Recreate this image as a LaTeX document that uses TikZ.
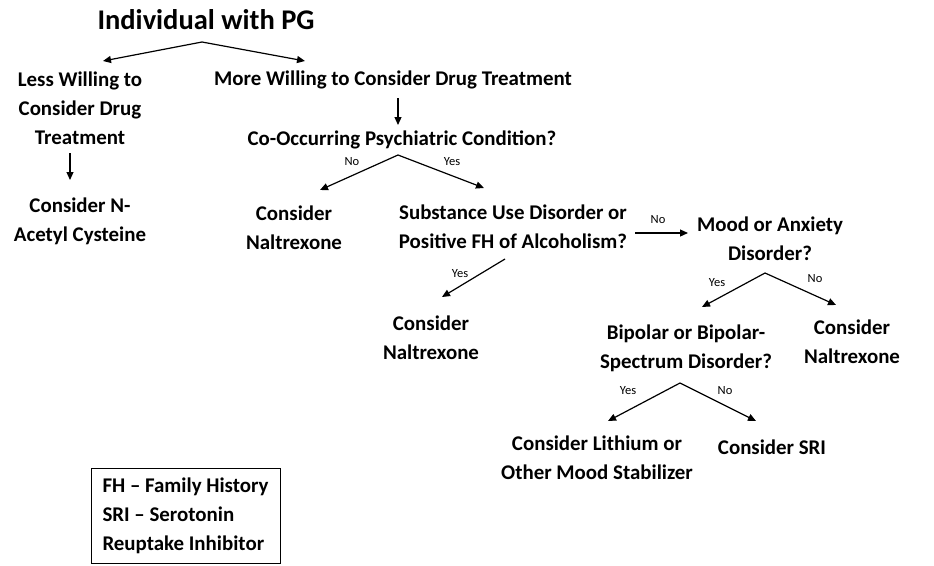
\documentclass[tikz,border=0pt]{standalone}
\usepackage{fontspec}
\setmainfont{Carlito}
\usetikzlibrary{arrows.meta}

\tikzstyle{heading}=[font=\bfseries\fontsize{28.5}{32}\selectfont, inner sep=0pt]
\tikzstyle{choice}=[font=\bfseries\fontsize{20.9}{29}\selectfont, align=center, inner sep=0pt]
\tikzstyle{answer}=[font=\fontsize{12.5}{14}\selectfont, inner sep=0pt]
\tikzstyle{branch}=[-{Triangle[length=8pt,width=7pt]}, line width=1.2pt]

\begin{document}
\begin{tikzpicture}[x=1pt,y=-1pt]
\useasboundingbox (0,0) rectangle (934,565);

\node[heading](pg) at (206,20) {Individual with PG};

\node[choice](less) at (80,108.5) {Less Willing to\\Consider Drug\\Treatment};
\node[choice](nac) at (80,221.5) {Consider N-\\Acetyl Cysteine};
\node[choice](more) at (393,80) {More Willing to Consider Drug Treatment};
\node[choice](cooc) at (402,140) {Co-Occurring Psychiatric Condition?};
\node[choice](naltA) at (294,228) {Consider\\Naltrexone};
\node[choice](sud) at (513,227) {Substance Use Disorder or\\Positive FH of Alcoholism?};
\node[choice](naltB) at (431,337.5) {Consider\\Naltrexone};
\node[choice](mood) at (770,239) {Mood or Anxiety\\Disorder?};
\node[choice](bipolar) at (686,348.5) {Bipolar or Bipolar-\\Spectrum Disorder?};
\node[choice](naltC) at (852,342) {Consider\\Naltrexone};
\node[choice](lithium) at (597,457.5) {Consider Lithium or\\Other Mood Stabilizer};
\node[choice](sri) at (772,447) {Consider SRI};

\node[draw, line width=1pt, choice, align=left, minimum width=189pt,
      minimum height=95pt](legend) at (185.5,515.5) {FH -- Family History\\SRI -- Serotonin\\Reuptake Inhibitor};

% forks and tips
\coordinate (pg-fork) at (202,42);
\coordinate (less-tip) at (103,61);
\coordinate (more-tip) at (305,61);
\coordinate (less-foot) at (70,153);
\coordinate (nac-tip) at (70,180);
\coordinate (more-foot) at (398,98);
\coordinate (cooc-tip) at (398,125);
\coordinate (cooc-fork) at (398,155);
\coordinate (naltA-tip) at (320,190);
\coordinate (sud-tip) at (484,188);
\coordinate (sud-east) at (635,233);
\coordinate (mood-tip) at (688,233);
\coordinate (sud-foot) at (505,259);
\coordinate (naltB-tip) at (442,297);
\coordinate (mood-fork) at (765,273);
\coordinate (bipolar-tip) at (702,307);
\coordinate (naltC-tip) at (836,305);
\coordinate (bipolar-fork) at (680,383);
\coordinate (lithium-tip) at (608,421);
\coordinate (sri-tip) at (756,421);

\draw[branch] (pg-fork) -- (less-tip);
\draw[branch] (pg-fork) -- (more-tip);
\draw[branch] (less-foot) -- (nac-tip);
\draw[branch] (more-foot) -- (cooc-tip);
\draw[branch] (cooc-fork) -- (naltA-tip);
\draw[branch] (cooc-fork) -- (sud-tip);
\draw[branch] (sud-east) -- (mood-tip);
\draw[branch] (sud-foot) -- (naltB-tip);
\draw[branch] (mood-fork) -- (bipolar-tip);
\draw[branch] (mood-fork) -- (naltC-tip);
\draw[branch] (bipolar-fork) -- (lithium-tip);
\draw[branch] (bipolar-fork) -- (sri-tip);

\node[answer](no1) at (352,162) {No};
\node[answer](yes1) at (452,162) {Yes};
\node[answer](no2) at (658,220) {No};
\node[answer](yes2) at (460,274) {Yes};
\node[answer](yes3) at (717,283) {Yes};
\node[answer](no3) at (815,279) {No};
\node[answer](yes4) at (628,391) {Yes};
\node[answer](no4) at (725,391) {No};
\end{tikzpicture}
\end{document}
